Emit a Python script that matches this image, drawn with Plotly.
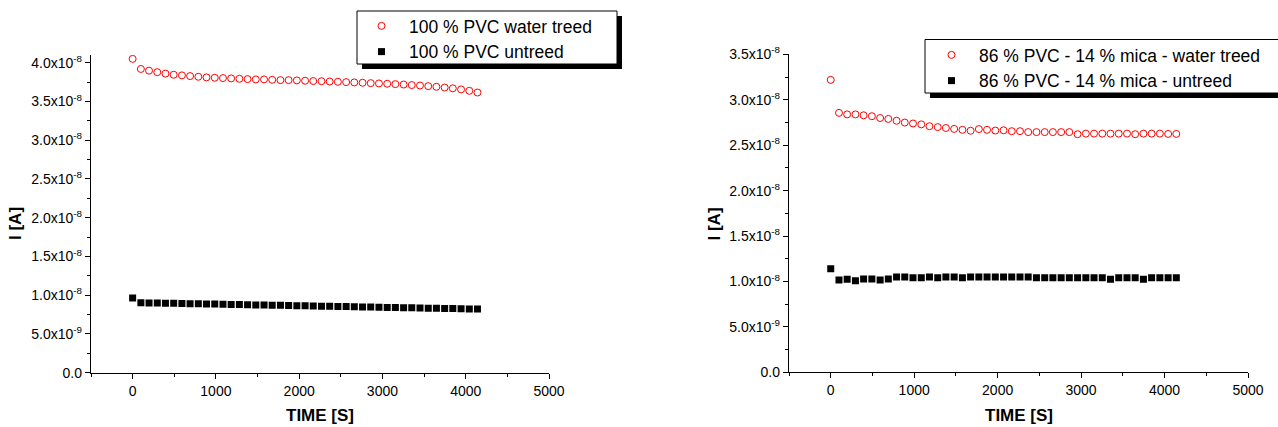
import plotly.graph_objects as go

# Sampling times of the current measurement [s]
TIME_S = [0, 99, 197, 296, 394, 493, 592, 690, 789, 887, 986, 1085, 1183, 1282,
          1380, 1479, 1578, 1676, 1775, 1873, 1972, 2071, 2169, 2268, 2366, 2465,
          2564, 2662, 2761, 2859, 2958, 3057, 3155, 3254, 3352, 3451, 3550, 3648,
          3747, 3845, 3944, 4043, 4141]

# Currents in nA
PVC_TREED_NA = [40.50, 39.20, 38.98, 38.78, 38.60, 38.45, 38.37, 38.28, 38.19, 38.11,
                38.06, 38.02, 37.98, 37.93, 37.89, 37.85, 37.85, 37.80, 37.76, 37.76,
                37.72, 37.68, 37.64, 37.62, 37.58, 37.54, 37.50, 37.46, 37.42, 37.37,
                37.33, 37.29, 37.24, 37.19, 37.12, 37.06, 36.98, 36.90, 36.80, 36.70,
                36.56, 36.38, 36.16]
PVC_UNTREED_NA = [9.65, 9.03, 9.01, 8.99, 8.97, 8.95, 8.93, 8.91, 8.89, 8.87,
                  8.85, 8.83, 8.81, 8.79, 8.77, 8.75, 8.73, 8.71, 8.69, 8.67,
                  8.65, 8.63, 8.61, 8.59, 8.57, 8.55, 8.53, 8.51, 8.49, 8.47,
                  8.45, 8.43, 8.41, 8.39, 8.37, 8.35, 8.33, 8.31, 8.29, 8.27,
                  8.25, 8.23, 8.21]
MICA_TREED_NA = [32.20, 28.57, 28.40, 28.40, 28.30, 28.20, 28.00, 27.90, 27.70, 27.50,
                 27.40, 27.30, 27.10, 27.00, 26.90, 26.80, 26.70, 26.60, 26.78, 26.70,
                 26.62, 26.65, 26.55, 26.55, 26.45, 26.45, 26.45, 26.45, 26.45, 26.45,
                 26.22, 26.28, 26.28, 26.28, 26.28, 26.28, 26.28, 26.22, 26.28, 26.28,
                 26.28, 26.25, 26.25]
MICA_UNTREED_NA = [11.40, 10.15, 10.25, 10.08, 10.28, 10.28, 10.15, 10.28, 10.50, 10.50,
                   10.40, 10.40, 10.50, 10.40, 10.50, 10.50, 10.40, 10.50, 10.50, 10.50,
                   10.50, 10.50, 10.50, 10.50, 10.50, 10.40, 10.40, 10.40, 10.40, 10.40,
                   10.40, 10.40, 10.40, 10.40, 10.25, 10.40, 10.40, 10.40, 10.25, 10.40,
                   10.40, 10.40, 10.40]

LEGEND_LEFT = ["100 % PVC water treed", "100 % PVC untreed"]
LEGEND_RIGHT = ["86 % PVC - 14 % mica - water treed", "86 % PVC - 14 % mica - untreed"]

X_TICKS = [0, 1000, 2000, 3000, 4000, 5000]
Y_TICKS_LEFT = [0, 5e-9, 1e-8, 1.5e-8, 2e-8, 2.5e-8, 3e-8, 3.5e-8, 4e-8]
Y_TICKS_RIGHT = [0, 5e-9, 1e-8, 1.5e-8, 2e-8, 2.5e-8, 3e-8, 3.5e-8]
Y_TICKTEXT_LEFT = ["0.0", "5.0x10<sup>-9</sup>", "1.0x10<sup>-8</sup>", "1.5x10<sup>-8</sup>",
                   "2.0x10<sup>-8</sup>", "2.5x10<sup>-8</sup>", "3.0x10<sup>-8</sup>",
                   "3.5x10<sup>-8</sup>", "4.0x10<sup>-8</sup>"]
Y_TICKTEXT_RIGHT = Y_TICKTEXT_LEFT[:8]

W, H = 1278, 427
FONT = "Liberation Sans, Arial, sans-serif"
RED = "#ff0000"


def px_x(p):
    return p / W


def px_y(p):
    return (H - p) / H


def amps(values_na):
    return [v * 1e-9 for v in values_na]


fig = go.Figure()

series = [
    ("x", "y", "legend", PVC_TREED_NA, PVC_UNTREED_NA, LEGEND_LEFT),
    ("x2", "y2", "legend2", MICA_TREED_NA, MICA_UNTREED_NA, LEGEND_RIGHT),
]
for xa, ya, lg, treed, untreed, names in series:
    fig.add_trace(go.Scatter(
        x=TIME_S, y=amps(treed), mode="markers", name=names[0],
        xaxis=xa, yaxis=ya, legend=lg,
        marker=dict(symbol="circle-open", size=7, color=RED, line=dict(width=1, color=RED)),
    ))
    fig.add_trace(go.Scatter(
        x=TIME_S, y=amps(untreed), mode="markers", name=names[1],
        xaxis=xa, yaxis=ya, legend=lg,
        marker=dict(symbol="square", size=7, color="black", line=dict(width=0)),
    ))

axis_common = dict(
    showgrid=False, zeroline=False, showline=True, linecolor="black", linewidth=1.3,
    ticks="outside", ticklen=5, tickwidth=1.3, tickcolor="black",
    tickfont=dict(family=FONT, size=14, color="black"),
)
x_common = dict(axis_common, range=[-500, 5000], tickvals=X_TICKS,
                minor=dict(ticks="outside", ticklen=3, tickwidth=1.3, tickcolor="black",
                           tickvals=[-500, 500, 1500, 2500, 3500, 4500]))
y_minor = dict(ticks="outside", ticklen=3, tickwidth=1.3, tickcolor="black",
               dtick=2.5e-9, tick0=0)
legend_font = dict(family=FONT, size=17.5, color="black")

fig.update_layout(
    width=W, height=H,
    margin=dict(l=0, r=0, t=0, b=0, autoexpand=False),
    paper_bgcolor="white", plot_bgcolor="white",
    font=dict(family=FONT, color="black"),
    xaxis=dict(x_common, domain=[px_x(91), px_x(549)], anchor="y"),
    yaxis=dict(axis_common, domain=[px_y(372.7), px_y(55)], anchor="x",
               range=[0, 4.1e-8], tickvals=Y_TICKS_LEFT, ticktext=Y_TICKTEXT_LEFT,
               minor=y_minor),
    xaxis2=dict(x_common, domain=[px_x(789), px_x(1248)], anchor="y2"),
    yaxis2=dict(axis_common, domain=[px_y(372.3), px_y(54)], anchor="x2",
                range=[0, 3.505e-8], tickvals=Y_TICKS_RIGHT, ticktext=Y_TICKTEXT_RIGHT,
                minor=y_minor),
    legend=dict(x=px_x(354), y=px_y(8), xanchor="left", yanchor="top",
                bgcolor="rgba(0,0,0,0)", borderwidth=0, tracegroupgap=0,
                itemwidth=45, font=legend_font),
    legend2=dict(x=px_x(924), y=px_y(37), xanchor="left", yanchor="top",
                 bgcolor="rgba(0,0,0,0)", borderwidth=0, tracegroupgap=0,
                 itemwidth=45, font=legend_font),
    showlegend=True,
)

# Legend frames with a solid drop shadow
shapes = []
for left, top, right, bottom in [(357, 11, 617, 64), (925, 39.5, 1292, 93)]:
    shapes.append(dict(type="rect", xref="paper", yref="paper", layer="above",
                       x0=px_x(left + 5), x1=px_x(right + 5), y0=px_y(bottom + 5), y1=px_y(top + 5),
                       fillcolor="black", line=dict(width=0)))
    shapes.append(dict(type="rect", xref="paper", yref="paper", layer="above",
                       x0=px_x(left), x1=px_x(right), y0=px_y(bottom), y1=px_y(top),
                       fillcolor="white", line=dict(width=1, color="black")))
fig.update_layout(shapes=shapes)

# Axis titles
title_font = dict(family=FONT, size=17, color="black")
annotations = []
for cx, ly in [(320, 15), (1018.5, 713.5)]:
    annotations.append(dict(text="<b>TIME [S]</b>", xref="paper", yref="paper",
                            x=px_x(cx), y=px_y(415), xanchor="center", yanchor="middle",
                            showarrow=False, font=title_font))
    annotations.append(dict(text="<b>I [A]</b>", xref="paper", yref="paper",
                            x=px_x(ly), y=px_y(224), xanchor="center", yanchor="middle",
                            textangle=-90, showarrow=False, font=title_font))
fig.update_layout(annotations=annotations)

fig.write_html("out.html")
